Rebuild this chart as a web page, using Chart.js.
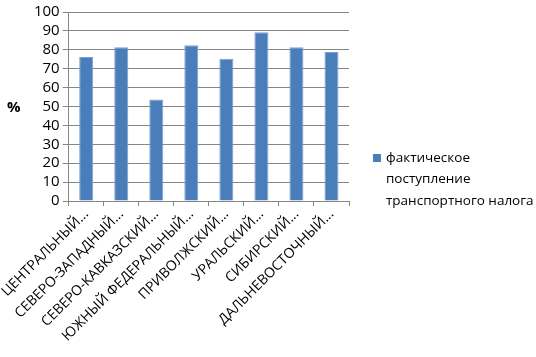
<!DOCTYPE html>
<html><head><meta charset="utf-8">
<script src="https://cdn.jsdelivr.net/npm/chart.js@4"></script>
<style>html,body{margin:0;padding:0;background:#fff}#wrap{position:relative;width:536px;height:357px}</style>
</head><body><div id="wrap"><canvas id="c" width="536" height="357"></canvas></div>
<script>
const categories = ["ЦЕНТРАЛЬНЫЙ...", "СЕВЕРО-ЗАПАДНЫЙ...", "СЕВЕРО-КАВКАЗСКИЙ...", "ЮЖНЫЙ ФЕДЕРАЛЬНЫЙ...", "ПРИВОЛЖСКИЙ...", "УРАЛЬСКИЙ...", "СИБИРСКИЙ...", "ДАЛЬНЕВОСТОЧНЫЙ..."];
const values = [76.2, 81.4, 53.7, 82.4, 75.3, 89.3, 81.4, 78.8];
const seriesName = ["фактическое", "поступление", "транспортного налога"];
const yTitle = "%";

const fontFam = "'Open Sans', 'Liberation Sans', sans-serif";
const overlay = {
  id: 'overlay',
  afterDraw(chart) {
    const ctx = chart.ctx;
    ctx.save();
    ctx.fillStyle = '#000';
    ctx.font = "bold 15px " + fontFam;
    ctx.textBaseline = 'middle';
    ctx.textAlign = 'left';
    ctx.fillText(yTitle, 7, 108);
    // legend
    ctx.fillStyle = '#4a7ebb';
    ctx.fillRect(373, 154, 8, 8);
    ctx.fillStyle = '#000';
    ctx.font = "13.5px " + fontFam;
    seriesName.forEach((t, i) => ctx.fillText(t, 386, 158 + i * 21.5));
    ctx.restore();
  }
};

new Chart(document.getElementById('c'), {
  type: 'bar',
  data: { labels: categories, datasets: [{ label: seriesName.join(' '), data: values, backgroundColor: '#4a7ebb', borderColor: '#7aa0d0', borderWidth: 1, barPercentage: 0.8, categoryPercentage: 0.5 }] },
  options: {
    responsive: false, animation: false,
    layout: { padding: { left: 0, right: 187, top: 12, bottom: 0 } },
    plugins: { legend: { display: false }, tooltip: { enabled: false } },
    scales: {
      x: {
        grid: { display: true, drawOnChartArea: false, offset: true, color: '#868686', tickLength: 5 },
        border: { color: '#868686' },
        ticks: { color: '#000', font: { family: fontFam, size: 14 }, minRotation: 45, maxRotation: 45, autoSkip: false, padding: 0 },
        afterFit(s) { s.height = 156; }
      },
      y: {
        min: 0, max: 100,
        grid: { color: '#868686', tickLength: 6 },
        border: { color: '#868686' },
        ticks: { stepSize: 10, autoSkip: false, color: '#000', font: { family: fontFam, size: 15 }, padding: 3 },
        afterFit(s) { s.width = 67; }
      }
    }
  },
  plugins: [overlay]
});
</script></body></html>
